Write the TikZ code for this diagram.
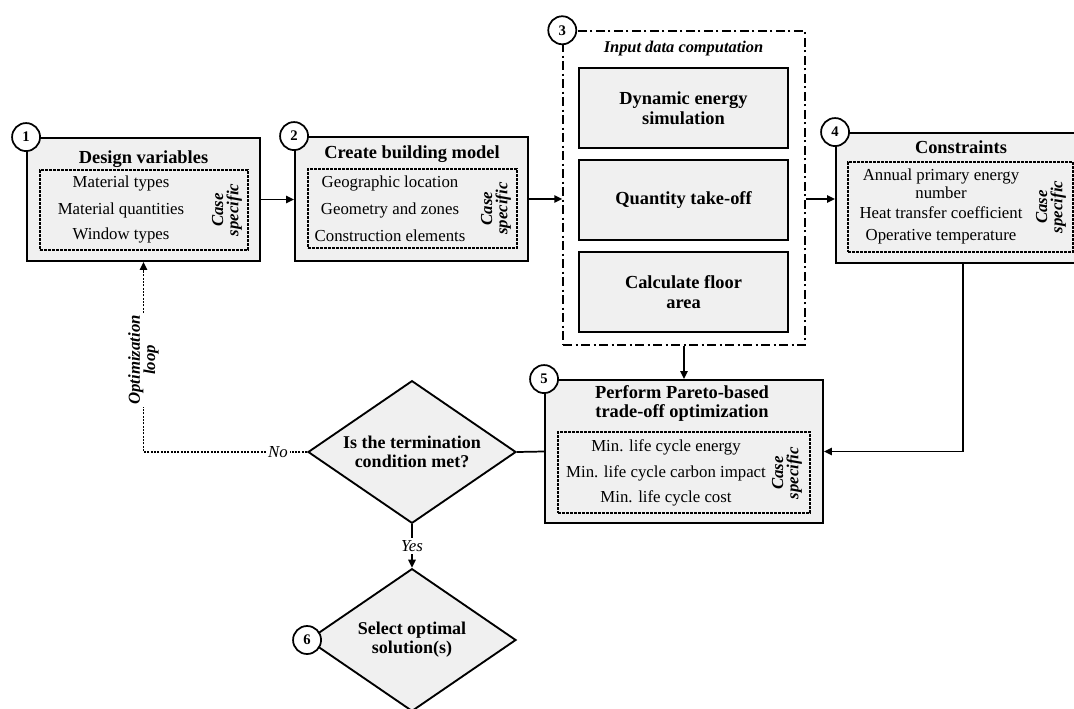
\documentclass[tikz,border=0pt]{standalone}
\usepackage{fontspec}
\setmainfont{Liberation Serif}
\usetikzlibrary{shapes.geometric,arrows.meta,positioning,calc}

\begin{document}
\begin{tikzpicture}[x=0.75pt, y=-0.75pt,
    mainbox/.style={draw, line width=1.4pt, fill=gray!12},
    casebox/.style={draw, line width=1.1pt, dash pattern=on 2pt off 1pt},
    groupbox/.style={draw, line width=1.1pt, dash pattern=on 7pt off 2.5pt on 1.5pt off 2.5pt},
    calcbox/.style={mainbox, minimum width=156.75pt, minimum height=60pt, align=center,
        font=\fontsize{13.8}{15}\selectfont\bfseries},
    decision/.style={diamond, aspect=1.45, draw, line width=1.4pt, fill=gray!12, minimum width=156pt,
        minimum height=107pt, inner sep=0pt, align=center,
        font=\fontsize{13.5}{14.5}\selectfont\bfseries},
    boxtitle/.style={align=center, font=\fontsize{13.8}{14}\selectfont\bfseries},
    item/.style={align=center, font=\fontsize{12.6}{13.5}\selectfont},
    casetext/.style={rotate=90, align=center, inner sep=1pt,
        font=\fontsize{12.6}{11.5}\selectfont\bfseries\itshape},
    stepnum/.style={circle, draw, line width=1.3pt, fill=white, minimum size=21pt,
        inner sep=0pt, font=\fontsize{11}{11}\selectfont\bfseries},
    link/.style={line width=1.3pt},
    arr/.style={line width=1.3pt, -{Triangle[length=6pt,width=5.5pt]}},
    dotline/.style={line width=1.1pt, dash pattern=on 1.5pt off 1pt},
    lbl/.style={fill=white, inner sep=1.5pt, font=\fontsize{12.6}{13}\selectfont\itshape}]

    \useasboundingbox (0,0) rectangle (1074,709);
    \clip (0,0) rectangle (1074,709);

    % Design variables
    \node[mainbox, minimum width=174.75pt, minimum height=92.25pt] (dv) at (143.5,199.5) {};
    \node[boxtitle] (dvtitle) at (143.5,159) {Design variables};
    \node[casebox, minimum width=156pt, minimum height=60pt] (dvcase) at (144,210) {};
    \node[item] (dv1) at (121,183) {Material types};
    \node[item] (dv2) at (121,210) {Material quantities};
    \node[item] (dv3) at (121,235) {Window types};
    \node[casetext] (dvspec) at (227,210) {Case\\specific};

    % Create building model
    \node[mainbox, minimum width=174.75pt, minimum height=93pt] (cbm) at (411.5,199) {};
    \node[boxtitle] (cbmtitle) at (412,154) {Create building model};
    \node[casebox, minimum width=156.75pt, minimum height=59.25pt] (cbmcase) at (412.5,208.5) {};
    \node[item] (cbm1) at (390,183) {Geographic location};
    \node[item] (cbm2) at (390,210) {Geometry and zones};
    \node[item] (cbm3) at (390,236) {Construction elements};
    \node[casetext] (cbmspec) at (496,208.5) {Case\\specific};

    % Input data computation
    \node[groupbox, minimum width=181.5pt, minimum height=235.5pt] (idc) at (684,188) {};
    \node[lbl, font=\fontsize{12.3}{13}\selectfont\itshape] (idctitle) at (683.5,49)
        {\bfseries Input data computation};
    \node[calcbox] (sim) at (683.5,108) {Dynamic energy\\simulation};
    \node[calcbox] (qto) at (683.5,200) {Quantity take-off};
    \node[calcbox] (area) at (683.5,292) {Calculate floor\\area};

    % Constraints
    \node[mainbox, minimum width=190.5pt, minimum height=97.5pt] (con) at (963,198) {};
    \node[boxtitle] (contitle) at (961,147) {Constraints};
    \node[casebox, minimum width=168.75pt, minimum height=67.5pt] (concase) at (960.5,207) {};
    \node[item] (con1) at (941,183.5) {Annual primary energy\\number};
    \node[item] (con2) at (941,213) {Heat transfer coefficient};
    \node[item] (con3) at (941,237) {Operative temperature};
    \node[casetext] (conspec) at (1051,207) {Case\\specific};

    % Pareto-based optimization
    \node[mainbox, minimum width=208.5pt, minimum height=107.25pt] (pto) at (684,451.5) {};
    \node[boxtitle] (ptotitle) at (682,403.5) {Perform Pareto-based\\trade-off optimization};
    \node[casebox, minimum width=189pt, minimum height=60.75pt] (ptocase) at (684,472.5) {};
    \node[item] (pto1) at (666,447) {Min. life cycle energy};
    \node[item] (pto2) at (666,473) {Min. life cycle carbon impact};
    \node[item] (pto3) at (666,498) {Min. life cycle cost};
    \node[casetext] (ptospec) at (787,473) {Case\\specific};

    % Decisions
    \node[decision] (term) at (412,452) {Is the termination\\condition met?};
    \node[decision] (sel) at (412,640) {Select optimal\\solution(s)};

    % Step numbers
    \node[stepnum] (n1) at (dv.north west) {1};
    \node[stepnum] (n2) at (cbm.north west) {2};
    \node[stepnum] (n3) at (idc.north west) {3};
    \node[stepnum] (n4) at (con.north west) {4};
    \node[stepnum] (n5) at (pto.north west) {5};
    \node[stepnum] (n6) at (sel.west) {6};

    % Connectors
    \draw[arr] (dv.east) -- (dv.east -| cbm.west);
    \draw[arr] (cbm.east) -- (cbm.east -| idc.west);
    \draw[arr] (cbm.east -| idc.east) -- (cbm.east -| con.west);
    \draw[arr] (idc.south) -- (idc.south |- pto.north);
    \draw[arr] (con.south) |- (pto.east);
    \draw[link] (term.east) -- (pto.west);
    \draw[arr] (term.south) -- node[lbl] (yes) {Yes} (sel.north);

    % Optimization loop
    \node[lbl] (no) at (278,452) {No};
    \node[lbl, rotate=90, align=center, font=\fontsize{12.6}{11.5}\selectfont\bfseries\itshape]
        (optloop) at (143.5,360) {Optimization\\loop};
    \draw[dotline] (term.west) -- (no);
    \draw[dotline] (no) -| (optloop);
    \draw[dotline, -{Triangle[length=6pt,width=5.5pt]}] (optloop) -- (optloop |- dv.south);
\end{tikzpicture}
\end{document}
